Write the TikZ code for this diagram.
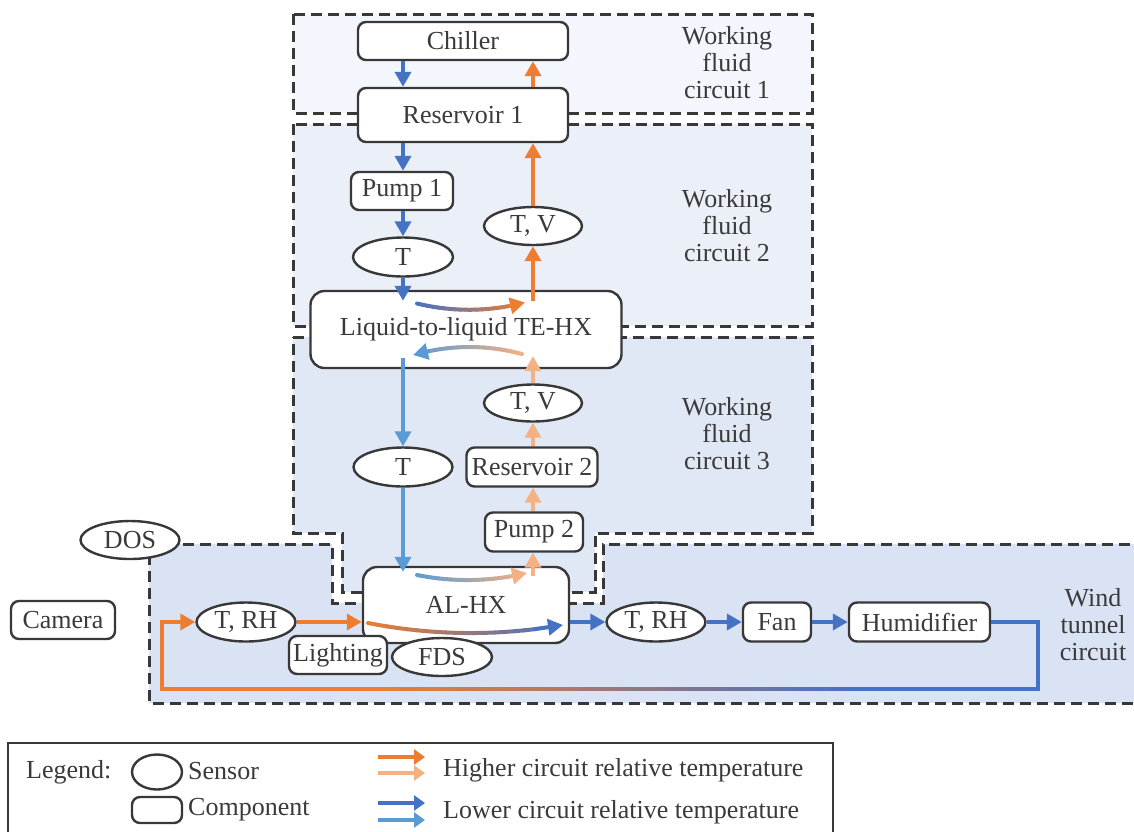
\documentclass[tikz,border=0pt]{standalone}
\usepackage{fontspec}
\setmainfont{Liberation Serif}
\usetikzlibrary{arrows.meta,calc,shapes.geometric}

\definecolor{hotC}{HTML}{ED7D31}
\definecolor{warmC}{HTML}{F4B183}
\definecolor{coldC}{HTML}{4472C4}
\definecolor{coolC}{HTML}{5B9BD5}
\definecolor{edgeC}{HTML}{383838}
\definecolor{txtC}{HTML}{3A3A3A}
\definecolor{fillA}{HTML}{F3F6FC}
\definecolor{fillB}{HTML}{EAEFF8}
\definecolor{fillC}{HTML}{E1E8F5}
\definecolor{fillD}{HTML}{DAE3F3}

% curved arrow fading from one colour into another
\newcommand{\gradflow}[5]{%
  \foreach \k in {0,...,20}{
    \pgfmathsetmacro\gt{\k/20}
    \path ($(#1)!\gt!(#2)$) coordinate (ga) ($(#2)!\gt!(#3)$) coordinate (gb);
    \coordinate (g\k) at ($(ga)!\gt!(gb)$);
  }
  \foreach \k in {0,...,16}{
    \pgfmathtruncatemacro\gn{\k+1}
    \pgfmathtruncatemacro\gm{98-5*\k}
    \draw[line width=4pt,line cap=round,#4!\gm!#5] (g\k) -- (g\gn);
  }
  \draw[flow,#5] (g17) -- (g20);
}

\begin{document}
\begin{tikzpicture}[x=1pt,y=-1pt,
  font=\fontsize{26}{27}\selectfont,text=txtC,
  comp/.style={draw=edgeC,line width=2.4pt,rounded corners=8pt,fill=white,inner sep=0pt},
  sens/.style={draw=edgeC,line width=2.4pt,ellipse,fill=white,inner sep=0pt},
  zone/.style={draw=edgeC,line width=3pt,dash pattern=on 11pt off 6pt},
  flow/.style={line width=4pt,-{Triangle[length=15pt,width=16pt]}},
  legflow/.style={line width=4pt,-{Triangle[length=11pt,width=15pt]}},
  lbl/.style={anchor=west,inner sep=0pt}]
\useasboundingbox (0,0) rectangle (1134,831);

% circuits
\draw[zone,fill=fillA] (293,14) rectangle (812,113);
\draw[zone,fill=fillB] (293,124) rectangle (812,326);
\draw[zone,fill=fillC] (293,337) -- (812,337) -- (812,533) -- (595,533) -- (595,592)
  -- (342,592) -- (342,533) -- (293,533) -- cycle;
\draw[zone,fill=fillD] (149,544) -- (332,544) -- (332,603) -- (603,603) -- (603,544)
  -- (1140,544) -- (1140,703) -- (149,703) -- cycle;
\node[align=center] (lab1) at (727,63) {Working\\fluid\\circuit 1};
\node[align=center] (lab2) at (727,226) {Working\\fluid\\circuit 2};
\node[align=center] (lab3) at (727,434) {Working\\fluid\\circuit 3};
\node[align=center] (lab4) at (1093,625) {Wind\\tunnel\\circuit};

% components and sensors
\node[comp,minimum width=210pt,minimum height=38pt] (chiller) at (463,41) {Chiller};
\node[comp,minimum width=210pt,minimum height=54pt] (res1) at (463,115) {Reservoir 1};
\node[comp,minimum width=102pt,minimum height=38pt] (pump1) at (402,191) {Pump 1};
\node[sens,minimum width=100pt,minimum height=39pt] (tA) at (403,257) {T};
\node[sens,minimum width=98pt,minimum height=38pt] (tv1) at (533,226) {T, V};
\node[comp,minimum width=311pt,minimum height=77pt,rounded corners=14pt] (tehx) at (466,329.5) {Liquid-to-liquid TE-HX};
\node[sens,minimum width=98pt,minimum height=37pt] (tv2) at (533,403) {T, V};
\node[sens,minimum width=99pt,minimum height=39pt] (tB) at (403,467) {T};
\node[comp,minimum width=131pt,minimum height=39pt] (res2) at (532,467) {Reservoir 2};
\node[comp,minimum width=98pt,minimum height=39pt] (pump2) at (534,532) {Pump 2};
\node[comp,minimum width=206pt,minimum height=76pt,rounded corners=14pt] (alhx) at (466,605) {AL-HX};
\node[comp,minimum width=98pt,minimum height=38pt] (lighting) at (338,655) {Lighting};
\node[sens,minimum width=100pt,minimum height=38pt] (fds) at (442,657) {FDS};
\node[sens,minimum width=99pt,minimum height=38pt] (dos) at (130,540) {DOS};
\node[comp,minimum width=104pt,minimum height=38pt] (camera) at (63,620) {Camera};
\node[sens,minimum width=99pt,minimum height=39pt] (trh1) at (246,622) {T, RH};
\node[sens,minimum width=99pt,minimum height=39pt] (trh2) at (656,622) {T, RH};
\node[comp,minimum width=68pt,minimum height=39pt] (fan) at (777,622) {Fan};
\node[comp,minimum width=141pt,minimum height=39pt] (hum) at (919.5,622) {Humidifier};

% circuit 1
\draw[flow,coldC] (chiller.south -| tA) -- (res1.north -| tA);
\draw[flow,hotC] (res1.north -| tv1) -- (chiller.south -| tv1);
% circuit 2
\draw[flow,coldC] (res1.south -| tA) -- (pump1.north -| tA);
\draw[flow,coldC] (pump1.south -| tA) -- (tA.north);
\draw[flow,coldC] (tA.south) -- ($(tehx.north -| tA)+(0,11)$);
\draw[flow,hotC] ($(tehx.north -| tv1)+(0,11)$) -- (tv1.south);
\draw[flow,hotC] (tv1.north) -- (res1.south -| tv1);
% circuit 3
\draw[flow,coolC] ($(tehx.south -| tB)+(0,-11)$) -- (tB.north);
\draw[flow,coolC] (tB.south) -- ($(alhx.north -| tB)+(0,6)$);
\draw[flow,warmC] ($(alhx.north -| tv2)+(0,10)$) -- (pump2.south -| tv2);
\draw[flow,warmC] (pump2.north -| tv2) -- (res2.south -| tv2);
\draw[flow,warmC] (res2.north -| tv2) -- (tv2.south);
\draw[flow,warmC] (tv2.north) -- ($(tehx.south -| tv2)+(0,-13)$);
% wind tunnel
\draw[flow,hotC] (trh1.east) -- (trh1 -| alhx.west);
\draw[flow,coldC] (trh2 -| alhx.east) -- (trh2.west);
\draw[flow,coldC] (trh2.east) -- (fan.west);
\draw[flow,coldC] (fan.east) -- (hum.west);
\coordinate (retR) at (1038,689);
\coordinate (retM) at (860,689);
\coordinate (retG) at (380,689);
\coordinate (retL) at (162,689);
\draw[flow,hotC] (hum.east) -| (retR) -- (retL) |- (trh1.west);
\draw[line width=4pt,coldC] (hum.east) -| (retR) -- (retM);
\foreach \k in {0,...,47}{
  \pgfmathtruncatemacro\gm{100-2.1*\k}
  \draw[line width=4pt,hotC!\gm!coldC] ($(retG)!\k/48!(retM)$) -- ($(retG)!\k/48+0.025!(retM)$);
}

% heat exchange inside the HX boxes
\coordinate (ta1) at ($(tehx)+(-49,-26)$);
\coordinate (tc1) at ($(tehx)+(5,-13)$);
\coordinate (tb1) at ($(tehx)+(59,-27)$);
\gradflow{ta1}{tc1}{tb1}{coldC}{hotC}
\coordinate (ta2) at ($(tehx)+(56,24.5)$);
\coordinate (tc2) at ($(tehx)+(2,10)$);
\coordinate (tb2) at ($(tehx)+(-53,25.5)$);
\gradflow{ta2}{tc2}{tb2}{warmC}{coolC}
\coordinate (aa1) at ($(alhx)+(-49,-30)$);
\coordinate (ac1) at ($(alhx)+(6,-19)$);
\coordinate (ab1) at ($(alhx)+(61,-32)$);
\gradflow{aa1}{ac1}{ab1}{coolC}{warmC}
\coordinate (aa2) at ($(alhx)+(-98,18)$);
\coordinate (ac2) at ($(alhx)+(-1,37)$);
\coordinate (ab2) at ($(alhx)+(97,20)$);
\gradflow{aa2}{ac2}{ab2}{hotC}{coldC}

% legend
\draw[edgeC,line width=2.4pt] (8,743) rectangle (833,840);
\node[lbl] (legtxt) at (26,772) {Legend:};
\node[sens,minimum width=50pt,minimum height=35pt] (legS) at (157,772) {};
\node[lbl] (legSt) at (188,771) {Sensor};
\node[comp,minimum width=50pt,minimum height=26pt] (legC) at (157,810) {};
\node[lbl] (legCt) at (188,810) {Component};
\foreach \yy/\cc in {757/hotC,773/warmC,803/coldC,820/coolC}
  \draw[legflow,\cc] (378,\yy) -- (425,\yy);
\node[lbl] (legH) at (443,770) {Higher circuit relative temperature};
\node[lbl] (legL) at (443,812) {Lower circuit relative temperature};
\end{tikzpicture}
\end{document}
